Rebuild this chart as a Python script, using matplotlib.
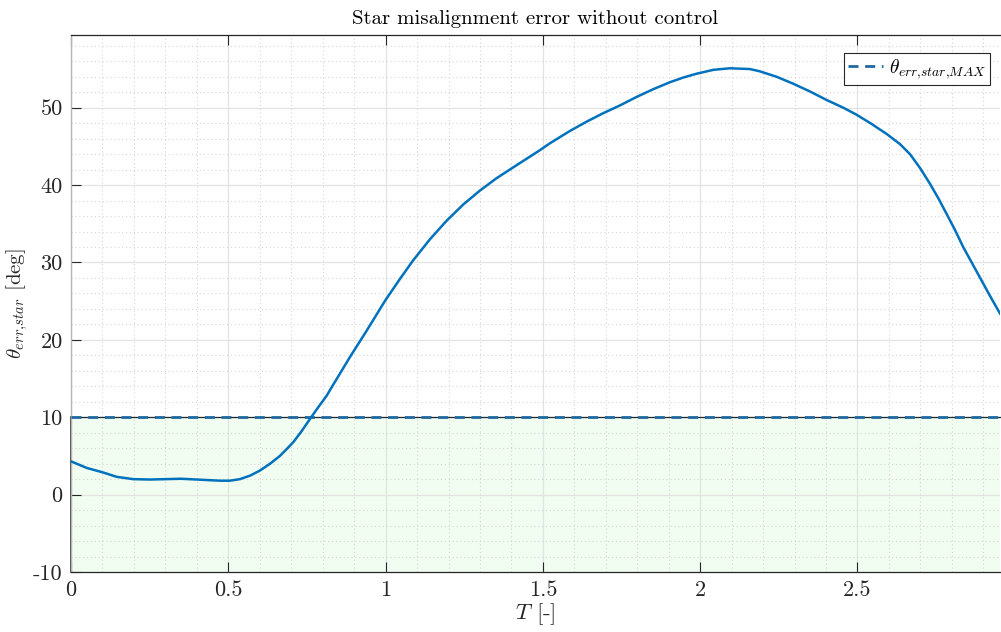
import numpy as np
import matplotlib.pyplot as plt
from matplotlib.ticker import MultipleLocator, FixedLocator

plt.rcParams['font.family'] = 'serif'
plt.rcParams['font.serif'] = ['cmr10', 'DejaVu Serif']
plt.rcParams['mathtext.fontset'] = 'cm'
plt.rcParams['axes.unicode_minus'] = False
plt.rcParams['axes.formatter.use_mathtext'] = True

# star misalignment error
T = [0.0, 0.05, 0.103, 0.145, 0.198, 0.251, 0.30, 0.35, 0.40, 0.474, 0.505,
     0.537, 0.569, 0.60, 0.633, 0.664, 0.686, 0.707, 0.733, 0.76, 0.786,
     0.813, 0.823, 0.887, 0.94, 0.999, 1.046, 1.088, 1.141, 1.194, 1.247,
     1.30, 1.353, 1.406, 1.49, 1.522, 1.586, 1.639, 1.692, 1.745, 1.798,
     1.851, 1.904, 1.946, 1.989, 2.042, 2.095, 2.158, 2.19, 2.243, 2.296,
     2.349, 2.402, 2.455, 2.497, 2.545, 2.593, 2.635, 2.667, 2.699, 2.73,
     2.757, 2.783, 2.81, 2.836, 2.863, 2.89, 2.921, 2.953]
theta = [4.3, 3.45, 2.85, 2.3, 2.0, 1.95, 2.0, 2.05, 1.95, 1.8, 1.8,
         2.0, 2.45, 3.1, 4.0, 5.0, 5.9, 6.8, 8.2, 9.8, 11.3,
         12.8, 13.5, 17.8, 21.2, 25.1, 27.9, 30.3, 33.0, 35.4, 37.5,
         39.3, 40.9, 42.3, 44.5, 45.4, 47.0, 48.2, 49.3, 50.3, 51.4,
         52.4, 53.3, 53.9, 54.4, 54.9, 55.1, 55.0, 54.7, 54.0, 53.1,
         52.1, 51.0, 50.0, 49.1, 47.9, 46.6, 45.3, 44.0, 42.2, 40.2,
         38.3, 36.3, 34.2, 32.0, 30.0, 28.0, 25.7, 23.4]
theta_max = 10
theta_min = -10

blue = '#0072BD'
dark = '#262626'

fig = plt.figure(figsize=(10.01, 6.32), dpi=100)
ax = fig.add_axes([71 / 1001, 1 - 572 / 632, 929 / 1001, 537 / 632])

ax.set_xlim(0, 2.953)
ax.set_ylim(-10, 59.4)

# allowed band
ax.fill_between([0, 2.953], theta_min, theta_max, color='#f0fdf0', zorder=1,
                linewidth=0)
ax.plot([0, 2.953], [theta_max, theta_max], color=dark, lw=0.9, zorder=2,
        clip_on=False)
ax.plot([0, 0], [theta_min, theta_max], color=dark, lw=1.2, zorder=2,
        clip_on=False)
ax.plot([0, 2.953], [theta_max, theta_max], color='#1f6aa0', lw=2.0,
        dashes=(3.6, 2.4), zorder=3, label=r'$\theta_{err{,}star{,}MAX}$')

ax.plot(T, theta, color=blue, lw=1.8, zorder=4)

ax.xaxis.set_major_locator(FixedLocator([0, 0.5, 1, 1.5, 2, 2.5]))
ax.xaxis.set_minor_locator(MultipleLocator(0.1))
ax.yaxis.set_major_locator(FixedLocator([-10, 0, 10, 20, 30, 40, 50]))
ax.yaxis.set_minor_locator(MultipleLocator(2))
ax.set_xticklabels(['0', '0.5', '1', '1.5', '2', '2.5'])
ax.set_yticklabels(['-10', '0', '10', '20', '30', '40', '50'])

ax.grid(which='major', color='#e3e3e3', lw=0.9, ls='-')
ax.grid(which='minor', color='#d5d5d5', lw=0.8, ls=(0, (1, 2.5)))

ax.tick_params(which='major', direction='in', length=7, width=0.8,
               colors=dark, labelcolor=dark, labelsize=16, top=True,
               right=False, pad=6)
ax.tick_params(which='minor', length=0)

for side in ['top', 'bottom']:
    ax.spines[side].set_color(dark)
    ax.spines[side].set_linewidth(0.9)
ax.spines['left'].set_color('#b5b5b5')
ax.spines['left'].set_linewidth(1.0)
ax.spines['right'].set_visible(False)

ax.set_title('Star misalignment error without control', fontsize=15,
             color='black', pad=8)
ax.set_xlabel(r'$T$ [-]', fontsize=16.5, color=dark, labelpad=1)
ax.set_ylabel(r'$\theta_{err{,}star}$ [deg]', fontsize=15, color=dark,
              labelpad=2)

leg = ax.legend(loc='upper right', bbox_to_anchor=(0.989, 0.9665),
                fontsize=14, fancybox=False, framealpha=1, edgecolor=dark,
                handlelength=1.8, borderpad=0.2, handletextpad=0.3,
                borderaxespad=0)
leg.get_frame().set_linewidth(0.8)

fig.savefig('out.png', dpi=100)
